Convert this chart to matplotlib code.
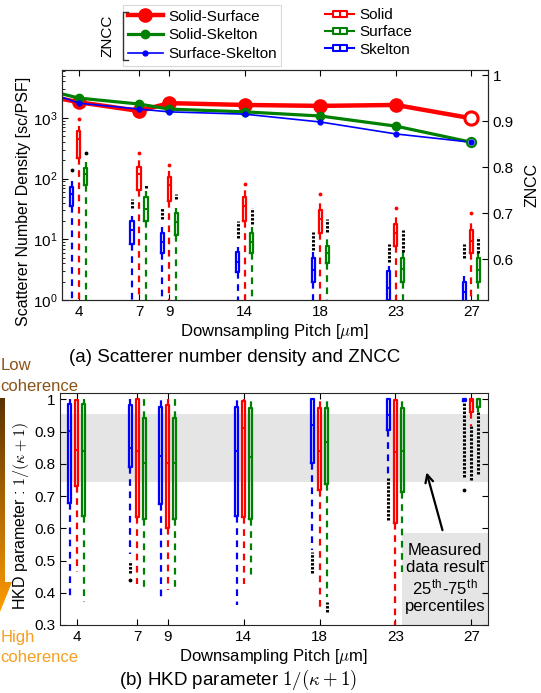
import numpy as np
import matplotlib
matplotlib.use('Agg')
import matplotlib.pyplot as plt
from matplotlib.lines import Line2D
from matplotlib.path import Path
from matplotlib.patches import Polygon, Rectangle
from matplotlib.colors import LinearSegmentedColormap

plt.rcParams['font.family'] = ['Liberation Sans', 'DejaVu Sans']
plt.rcParams['mathtext.fontset'] = 'cm'
plt.rcParams['xtick.direction'] = 'in'
plt.rcParams['ytick.direction'] = 'in'
plt.rcParams['axes.edgecolor'] = '#262626'

# ---------------- data ----------------
pitch = [4, 7, 9, 14, 18, 23, 27]          # downsampling pitch (tick labels)

# ZNCC curves (first value belongs to a smaller pitch that lies left of the axes)
zncc_solid_surface = [0.967, 0.941, 0.922, 0.939, 0.935, 0.933, 0.935, 0.906]
zncc_solid_skelton = [0.983, 0.950, 0.937, 0.926, 0.920, 0.911, 0.889, 0.854]
zncc_surface_skelton = [0.986, 0.939, 0.926, 0.920, 0.915, 0.898, 0.872, 0.854]

# scatterer number density boxes: q1, median, q3, upper whisker  (lower whisker < 1)
dens_solid = [(219, 457, 617, 741), (66, 117, 158, 200), (42, 78, 105, 135),
              (20, 36, 49, 71), (12.6, 22, 30, 41), (7.9, 12.6, 18, 24.5),
              (5.9, 9.5, 14, 19)]
dens_surface = [(78, 120, 151, 191), (20, 32, 50, 62), (12, 19, 27, 33),
                (5.9, 8.9, 12.6, 15.8), (4.1, 5.9, 7.9, 10.5), (2.0, 3.3, 5.0, 6.2),
                (2.0, 3.1, 4.9, 6.2)]
dens_skelton = [(35, 56, 74, 93), (8.5, 14.5, 20, 24.5), (5.9, 8.9, 12.6, 15.8),
                (2.9, 4.2, 6.2, 7.4), (2.0, 3.1, 4.9, 6.2), (1.0, 1.6, 3.0, 3.7),
                (0.9, 1.35, 2.0, 2.5)]
dens_low = 0.5
# outliers: (low, high) extent of the outlier column
dens_solid_out = [(977, 977), (269, 269), (170, 170), (83, 83), (55, 55), (33, 33), (27, 27)]
dens_surface_out = [(269, 269), (71, 83), (47, 56), (18, 33), (13, 22), (6.2, 14), (5.9, 11)]
dens_skelton_out = [(141, 141), (33, 47), (22, 33), (10.5, 20), (6.6, 13), (4.2, 8.5), (5.0, 8.5)]

# HKD parameter boxes: q1, median, q3, lower whisker, upper whisker
hkd_solid = [(0.73, 0.844, 0.997, 0.465, 1.0), (0.636, 0.841, 1.0, 0.427, 1.0),
             (0.60, 0.804, 0.984, 0.408, 1.0), (0.636, 0.912, 0.994, 0.427, 1.0),
             (0.72, 0.841, 0.975, 0.352, 1.0), (0.617, 0.838, 0.997, 0.25, 1.0),
             (0.96, 0.996, 1.0, 0.917, 1.0)]
hkd_surface = [(0.639, 0.841, 0.987, 0.37, 1.0), (0.629, 0.804, 0.943, 0.408, 1.0),
               (0.629, 0.804, 0.943, 0.408, 1.0), (0.629, 0.822, 0.972, 0.449, 1.0),
               (0.738, 0.869, 0.975, 0.387, 1.0), (0.713, 0.841, 0.975, 0.449, 1.0),
               (0.978, 1.0, 1.0, 0.96, 1.0)]
hkd_skelton = [(0.679, 0.903, 0.987, 0.377, 1.0), (0.79, 0.85, 0.984, 0.52, 1.0),
               (0.676, 0.826, 0.976, 0.377, 1.0), (0.639, 0.841, 0.978, 0.361, 1.0),
               (0.804, 0.922, 1.0, 0.533, 1.0), (0.905, 0.953, 1.0, 0.76, 1.0),
               (0.995, 1.0, 1.0, 0.995, 1.0)]
# outlier columns (pitch index, series, low, high)
hkd_out = [(1, 'skelton', 0.46, 0.50), (1, 'skelton', 0.44, 0.44),
           (4, 'skelton', 0.46, 0.527), (4, 'surface', 0.34, 0.37),
           (5, 'skelton', 0.626, 0.757), (6, 'skelton', 0.76, 0.99),
           (6, 'skelton', 0.72, 0.72), (6, 'solid', 0.75, 0.917),
           (6, 'surface', 0.77, 0.96)]
band = (0.745, 0.955)

# ---------------- layout ----------------
xpos = [0, 0.8, 1.2, 2.2, 3.2, 4.2, 5.2]   # where each pitch group is drawn
xpos_line = [-0.8] + xpos
XLIM = (-0.22, 5.42)
RED, GREEN, BLUE = '#ff0000', '#008000', '#0000ff'
offs = {'skelton': -0.093, 'solid': 0.0, 'surface': 0.093}
cols = {'skelton': BLUE, 'solid': RED, 'surface': GREEN}

W, H = 541, 693
fx = lambda x: x / W
fy = lambda y: 1 - y / H

fig = plt.figure(figsize=(W / 100, H / 100), dpi=100)


def draw_boxes(ax, stats, pos, color):
    ax.bxp(stats, positions=pos, widths=0.042, showfliers=False, showcaps=False,
           manage_ticks=False,
           boxprops=dict(color=color, lw=1.6),
           medianprops=dict(color=color, lw=1.5),
           whiskerprops=dict(color=color, lw=1.6, linestyle=(0, (3, 2.5))))


def out_mark(ax, x, lo, hi, color='k'):
    if lo == hi:
        ax.plot([x], [lo], '.', color=color, ms=3.5, zorder=3)
    else:
        ax.vlines(x, lo, hi, colors=color, lw=2.2, linestyles=(0, (0.8, 0.5)), zorder=3)


# ---------------- (a) top panel ----------------
ax = fig.add_axes([fx(62), fy(300), fx(488) - fx(62), fy(70) - fy(300)])
ax.set_yscale('log')
for name, data, outs in [('skelton', dens_skelton, dens_skelton_out),
                         ('solid', dens_solid, dens_solid_out),
                         ('surface', dens_surface, dens_surface_out)]:
    stats = [dict(q1=d[0], med=d[1], q3=d[2], whislo=dens_low, whishi=d[3]) for d in data]
    pos = [p + offs[name] for p in xpos]
    draw_boxes(ax, stats, pos, cols[name])
    for p, (lo, hi) in zip(pos, outs):
        out_mark(ax, p, lo, hi, RED if name == 'solid' else 'k')
ax.set_xlim(*XLIM)
ax.set_ylim(1, 10 ** 3.79)
ax.set_xticks(xpos)
ax.set_xticklabels([str(p) for p in pitch])
ax.tick_params(top=True, labelsize=11, length=4)
ax.tick_params(which='minor', top=False, length=2.5)
ax.set_xlabel(r'Downsampling Pitch [$\mu$m]', fontsize=12, labelpad=2)
ax.set_ylabel('Scatterer Number Density [sc/PSF]', fontsize=11.5)
ax.yaxis.set_label_coords(-0.072, 0.43)

ax2 = ax.twinx()
l1, = ax2.plot(xpos_line, zncc_solid_surface, '-o', color=RED, lw=3.2, ms=9.5)
l2, = ax2.plot(xpos_line, zncc_solid_skelton, '-o', color=GREEN, lw=2.3, ms=6)
l3, = ax2.plot(xpos_line, zncc_surface_skelton, '-o', color=BLUE, lw=1.2, ms=3.5)
ax2.plot(xpos_line[-1:], zncc_solid_surface[-1:], 'o', color=RED, ms=9.5, mfc='white', mew=2.2)
ax2.plot(xpos_line[-1:], zncc_solid_skelton[-1:], 'o', color=GREEN, ms=6.5, mfc='white', mew=1.6)
ax2.plot(xpos_line[-1:], zncc_surface_skelton[-1:], 'o', color=BLUE, ms=3.5)
ax2.set_ylim(0.511, 1.011)
ax2.set_yticks([0.6, 0.7, 0.8, 0.9, 1.0])
ax2.set_yticklabels(['0.6', '0.7', '0.8', '0.9', '1'])
ax2.tick_params(labelsize=11, length=4)
ax2.set_ylabel('ZNCC', fontsize=11.5)
ax2.yaxis.set_label_coords(1.085, 0.5)

# ---------------- (b) bottom panel ----------------
bx = fig.add_axes([fx(60), fy(625), fx(488) - fx(60), fy(393) - fy(625)])
bx.axhspan(band[0], band[1], color='#e5e5e5', zorder=0, lw=0)
bx.add_patch(Rectangle((4.29, 0.3), XLIM[1] - 4.29, 0.586 - 0.3, color='#e5e5e5', lw=0, zorder=0.5))
for name, data in [('skelton', hkd_skelton), ('solid', hkd_solid), ('surface', hkd_surface)]:
    stats = [dict(q1=d[0], med=d[1], q3=d[2], whislo=d[3], whishi=d[4]) for d in data]
    pos = [p + offs[name] for p in xpos]
    draw_boxes(bx, stats, pos, cols[name])
for i, name, lo, hi in hkd_out:
    out_mark(bx, xpos[i] + offs[name], lo, hi)
bx.set_xlim(*XLIM)
bx.set_ylim(0.3, 1.02)
bx.set_xticks(xpos)
bx.set_xticklabels([str(p) for p in pitch])
bx.set_yticks([0.3, 0.4, 0.5, 0.6, 0.7, 0.8, 0.9, 1.0])
bx.set_yticklabels(['0.3', '0.4', '0.5', '0.6', '0.7', '0.8', '0.9', '1'])
bx.tick_params(top=True, right=True, labelsize=11, length=4)
bx.set_xlabel(r'Downsampling Pitch [$\mu$m]', fontsize=12, labelpad=2)
bx.set_ylabel(r'HKD parameter : $1/(\kappa + 1)$', fontsize=11.5)
bx.yaxis.set_label_coords(-0.068, 0.47)
bx.text(4.855, 0.443, 'Measured\ndata result\n25$^{\\mathdefault{th}}$-75$^{\\mathdefault{th}}$\npercentiles',
        ha='center', va='center', fontsize=12, linespacing=1.15, zorder=4)
bx.annotate('', xy=(4.6, 0.782), xytext=(4.83, 0.586),
            arrowprops=dict(arrowstyle='->', color='k', lw=1.6, mutation_scale=14), zorder=4)

# ---------------- legends ----------------
box_marker = Path([(-1, -0.5), (1, -0.5), (1, 0.5), (-1, 0.5), (-1, -0.5), (0, -0.5), (0, 0.5)],
                  [Path.MOVETO, Path.LINETO, Path.LINETO, Path.LINETO, Path.CLOSEPOLY,
                   Path.MOVETO, Path.LINETO])
leg1 = fig.legend([l1, l2, l3], ['Solid-Surface', 'Solid-Skelton', 'Surface-Skelton'],
                  loc='upper left', bbox_to_anchor=(fx(123), fy(5)), fontsize=11,
                  frameon=True, fancybox=False, edgecolor='#d9d9d9', framealpha=1,
                  borderpad=0.3, handlelength=2.3, handletextpad=0.35, labelspacing=0.32,
                  borderaxespad=0)
leg1.get_frame().set_linewidth(0.8)
bh = [Line2D([0], [0], color=c, lw=1.5, marker=box_marker, ms=10, mfc='white', mec=c, mew=1.5)
      for c in (RED, GREEN, BLUE)]
fig.legend(bh, ['Solid', 'Surface', 'Skelton'], loc='upper left',
           bbox_to_anchor=(fx(319), fy(2)), fontsize=11, frameon=False,
           handlelength=1.9, handletextpad=0.35, labelspacing=0.22, borderaxespad=0)
fig.text(fx(108), fy(36), 'ZNCC', rotation=90, ha='center', va='center', fontsize=11)
fig.add_artist(Line2D([fx(128), fx(123), fx(123), fx(128)], [fy(12), fy(12), fy(60), fy(60)],
                      color='#333333', lw=1, zorder=10))

# ---------------- captions ----------------
fig.text(fx(235), fy(357), '(a) Scatterer number density and ZNCC', ha='center', va='center',
         fontsize=13.5)
fig.text(fx(238), fy(680), r'(b) HKD parameter $1/(\kappa+1)$', ha='center', va='center',
         fontsize=13.5)

# ---------------- coherence arrow ----------------
aa = fig.add_axes([fx(-14), fy(615), 28 / W, (615 - 393) / H])
aa.set_xlim(-14, 14)
aa.set_ylim(615, 393)
aa.axis('off')
cmap = LinearSegmentedColormap.from_list('coh', ['#5a3200', '#ff9c00'])
im = aa.imshow(np.linspace(0, 1, 256).reshape(-1, 1), cmap=cmap,
               extent=[-14, 14, 612, 398], aspect='auto')
arrow_poly = Polygon([(-5, 398), (5, 398), (5, 582), (12, 582), (0, 612), (-12, 582), (-5, 582)],
                     transform=aa.transData)
im.set_clip_path(arrow_poly)
fig.text(fx(1), fy(370), 'Low', color='#8a5418', fontsize=12, va='baseline')
fig.text(fx(0.5), fy(391), 'coherence', color='#8a5418', fontsize=12, va='baseline')
fig.text(fx(1), fy(642), 'High', color='#f5a020', fontsize=12, va='baseline')
fig.text(fx(0.5), fy(662), 'coherence', color='#f5a020', fontsize=12, va='baseline')

fig.savefig('out.png', dpi=100)
